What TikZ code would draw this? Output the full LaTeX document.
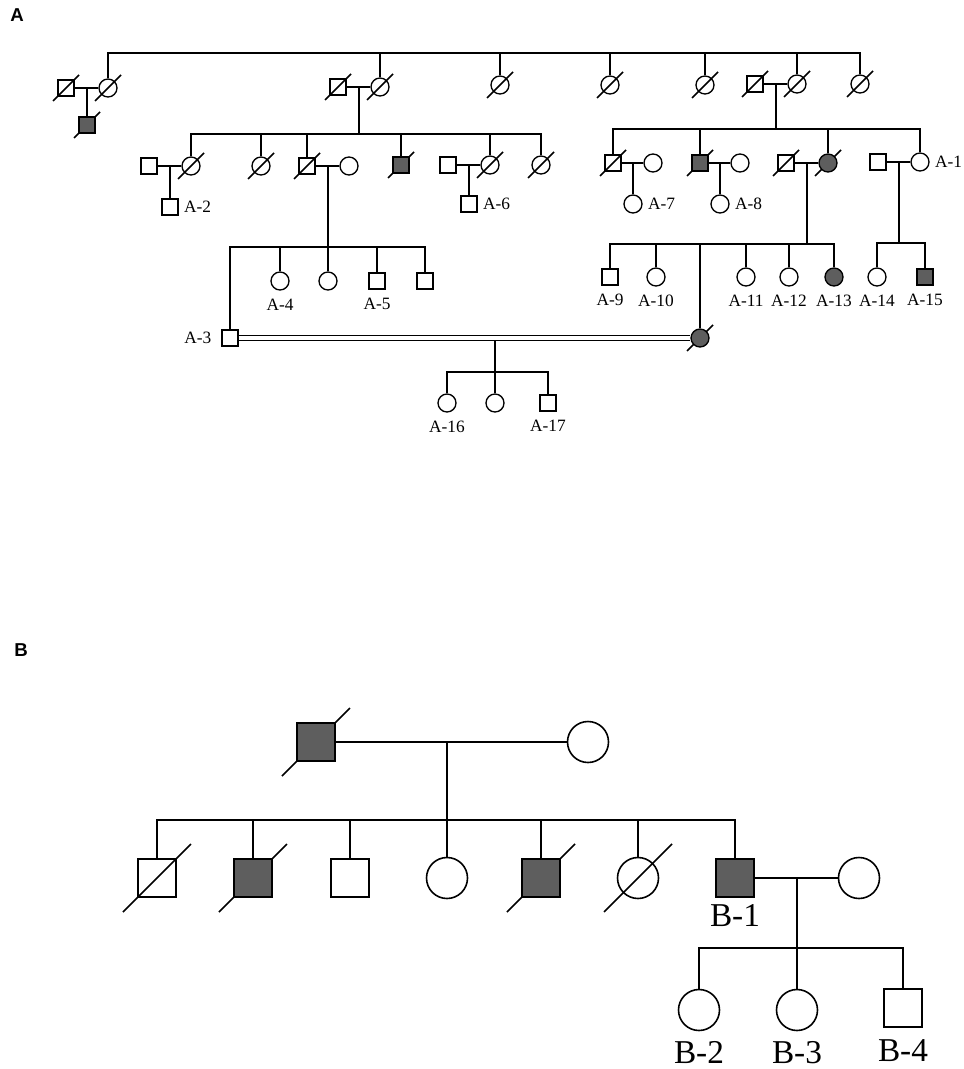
\documentclass[tikz,border=0pt]{standalone}
\usepackage{fontspec}
\setmainfont{Liberation Serif}
\setsansfont{Liberation Sans}
\usetikzlibrary{calc, backgrounds}
\definecolor{AffGray}{HTML}{5E5E5E}

\begin{document}
\begin{tikzpicture}[
        x=0.75pt, y=-0.75pt, line width=1pt,
        sq/.style={draw, rectangle, minimum size=12pt, inner sep=0pt},
        ci/.style={draw, circle, minimum size=13.5pt, inner sep=0pt},
        bsq/.style={sq, minimum size=28.5pt},
        bci/.style={ci, minimum size=30.75pt},
        aff/.style={fill=AffGray},
        lb/.style={font=\fontsize{13}{13}\selectfont, inner sep=1pt, label distance=5pt},
        lr/.style={font=\fontsize{13}{13}\selectfont, inner sep=1pt, label distance=2.5pt},
        bl/.style={font=\fontsize{25}{25}\selectfont, inner sep=1pt},
        panel/.style={font=\sffamily\bfseries\fontsize{14}{14}\selectfont}
      ]
        \useasboundingbox (0,0) rectangle (963,1069);
        \begin{scope}[on background layer]
          \fill[white] (0,0) rectangle (963,1069);
        \end{scope}

        \node[panel] (lblA) at (17,15) {A};
        \node[panel] (lblB) at (21,650) {B};

        % Panel A, generation I
        \node[sq] (a1m) at (66,88) {};
        \node[ci] (a1f) at (108,88) {};
        \node[sq, aff] (a1c) at (87,125) {};
        \node[sq] (a2m) at (338,87) {};
        \node[ci] (a2f) at (380,87) {};
        \node[ci] (a3) at (500,85) {};
        \node[ci] (a4) at (610,85) {};
        \node[ci] (a5) at (705,85) {};
        \node[sq] (a6m) at (755,84) {};
        \node[ci] (a6f) at (797,84) {};
        \node[ci] (a7) at (860,84) {};

        % Panel A, generation II
        \node[sq] (b1m) at (149,166) {};
        \node[ci] (b1f) at (191,166) {};
        \node[sq, label={[lr]right:A-2}] (b1c) at (170,207) {};
        \node[ci] (b2) at (261,166) {};
        \node[sq] (b3m) at (307,166) {};
        \node[ci] (b3f) at (349,166) {};
        \node[sq, aff] (b4) at (401,165) {};
        \node[sq] (b5m) at (448,165) {};
        \node[ci] (b5f) at (490,165) {};
        \node[sq, label={[lr]right:A-6}] (b5c) at (469,204) {};
        \node[ci] (b6) at (541,165) {};

        \node[sq] (c1m) at (613,163) {};
        \node[ci] (c1f) at (653,163) {};
        \node[ci, label={[lr]right:A-7}] (c1c) at (633,204) {};
        \node[sq, aff] (c2m) at (700,163) {};
        \node[ci] (c2f) at (740,163) {};
        \node[ci, label={[lr]right:A-8}] (c2c) at (720,204) {};
        \node[sq] (c3m) at (786,163) {};
        \node[ci, aff] (c3f) at (828,163) {};
        \node[sq] (c4m) at (878,162) {};
        \node[ci, label={[lr]right:A-1}] (c4f) at (920,162) {};

        % Panel A, generation III
        \node[sq, label={[lr, label distance=6pt]left:A-3}] (d1) at (230,338) {};
        \node[ci, label={[lb]below:A-4}] (d2) at (280,281) {};
        \node[ci] (d3) at (328,281) {};
        \node[sq, label={[lb]below:A-5}] (d4) at (377,281) {};
        \node[sq] (d5) at (425,281) {};

        \node[sq, label={[lb]below:A-9}] (e1) at (610,277) {};
        \node[ci, label={[lb]below:A-10}] (e2) at (656,277) {};
        \node[ci, aff] (e3) at (700,338) {};
        \node[ci, label={[lb]below:A-11}] (e4) at (746,277) {};
        \node[ci, label={[lb]below:A-12}] (e5) at (789,277) {};
        \node[ci, aff, label={[lb]below:A-13}] (e6) at (834,277) {};
        \node[ci, label={[lb]below:A-14}] (f1) at (877,277) {};
        \node[sq, aff, label={[lb]below:A-15}] (f2) at (925,277) {};

        \node[ci, label={[lb]below:A-16}] (g1) at (447,403) {};
        \node[ci] (g2) at (495,403) {};
        \node[sq, label={[lb]below:A-17}] (g3) at (548,403) {};

        % Panel A, lines
        \coordinate (topA) at (0,53);
        \draw (a1f.north) -- (a1f.north |- topA) -- (a7.north |- topA) -- (a7.north);
        \foreach \n in {a2f,a3,a4,a5,a6f} \draw (\n.north) -- (\n.north |- topA);

        \foreach \m/\f in {a1m/a1f, a2m/a2f, a6m/a6f, b1m/b1f, b3m/b3f, b5m/b5f, c1m/c1f, c2m/c2f, c3m/c3f, c4m/c4f}
          \draw (\m) -- (\f);
        \draw ($(a1m)!0.5!(a1f)$) -- (a1c);
        \draw ($(b1m)!0.5!(b1f)$) -- (b1c);
        \draw ($(b5m)!0.5!(b5f)$) -- (b5c);
        \draw ($(c1m)!0.5!(c1f)$) -- (c1c);
        \draw ($(c2m)!0.5!(c2f)$) -- (c2c);

        \coordinate (m2) at ($(a2m)!0.5!(a2f)$);
        \coordinate (sibB) at (0,134);
        \draw (m2) -- (m2 |- sibB);
        \draw (b1f.north) -- (b1f.north |- sibB) -- (b6.north |- sibB) -- (b6.north);
        \foreach \n in {b2,b3m,b4,b5f} \draw (\n.north) -- (\n.north |- sibB);

        \coordinate (m6) at ($(a6m)!0.5!(a6f)$);
        \coordinate (sibC) at (0,129);
        \draw (m6) -- (m6 |- sibC);
        \draw (c1m.north) -- (c1m.north |- sibC) -- (c4f.north |- sibC) -- (c4f.north);
        \foreach \n in {c2m,c3f} \draw (\n.north) -- (\n.north |- sibC);

        \coordinate (m3) at ($(b3m)!0.5!(b3f)$);
        \coordinate (sibD) at (0,247);
        \draw (m3) -- (m3 |- sibD);
        \draw (d1.north) -- (d1.north |- sibD) -- (d5.north |- sibD) -- (d5.north);
        \foreach \n in {d2,d3,d4} \draw (\n.north) -- (\n.north |- sibD);

        \coordinate (mc3) at ($(c3m)!0.5!(c3f)$);
        \coordinate (sibE) at (0,244);
        \draw (mc3) -- (mc3 |- sibE);
        \draw (e1.north) -- (e1.north |- sibE) -- (e6.north |- sibE) -- (e6.north);
        \foreach \n in {e2,e3,e4,e5} \draw (\n.north) -- (\n.north |- sibE);

        \coordinate (mc4) at ($(c4m)!0.5!(c4f)$);
        \coordinate (sibF) at (0,243);
        \draw (mc4) -- (mc4 |- sibF);
        \draw (f1.north) -- (f1.north |- sibF) -- (f2.north |- sibF) -- (f2.north);

        \coordinate (mg) at ($(d1)!0.5638!(e3)$);
        \coordinate (sibG) at (0,372);
        \draw (mg) -- (mg |- sibG);
        \draw (g1.north) -- (g1.north |- sibG) -- (g3.north |- sibG) -- (g3.north);
        \draw (g2.north) -- (g2.north |- sibG);
        \draw[double, double distance=2.5pt] (d1) -- (e3);

        % Panel B
        \begin{scope}[line width=1.2pt]
          \node[bsq, aff] (p1) at (316,742) {};
          \node[bci] (p2) at (588,742) {};
          \node[bsq] (q1) at (157,878) {};
          \node[bsq, aff] (q2) at (253,878) {};
          \node[bsq] (q3) at (350,878) {};
          \node[bci] (q4) at (447,878) {};
          \node[bsq, aff] (q5) at (541,878) {};
          \node[bci] (q6) at (638,878) {};
          \node[bsq, aff, label={[bl, label distance=3.5pt]below:B-1}] (q7) at (735,878) {};
          \node[bci] (q8) at (859,878) {};
          \node[bci, label={[bl, label distance=6pt]below:B-2}] (r1) at (699,1010) {};
          \node[bci, label={[bl, label distance=6pt]below:B-3}] (r2) at (797,1010) {};
          \node[bsq, label={[bl, label distance=7pt]below:B-4}] (r3) at (903,1008) {};

          \draw (p1) -- (p2);
          \coordinate (mp) at ($(p1)!0.4816!(p2)$);
          \coordinate (sibQ) at (0,820);
          \draw (mp) -- (mp |- sibQ);
          \draw (q1.north) -- (q1.north |- sibQ) -- (q7.north |- sibQ) -- (q7.north);
          \foreach \n in {q2,q3,q4,q5,q6} \draw (\n.north) -- (\n.north |- sibQ);

          \draw (q7) -- (q8);
          \coordinate (mq) at ($(q7)!0.5!(q8)$);
          \coordinate (sibR) at (0,948);
          \draw (mq) -- (mq |- sibR);
          \draw (r1.north) -- (r1.north |- sibR) -- (r3.north |- sibR) -- (r3.north);
          \draw (r2.north) -- (r2.north |- sibR);
        \end{scope}

        % deceased marks
        \begin{scope}[on background layer]
          \foreach \n in {a1m,a1f,a1c,a2m,a2f,a3,a4,a5,a6m,a6f,a7,b1f,b2,b3m,b4,b5f,b6,c1m,c2m,c3m,c3f,e3}
            \draw[line width=1.1pt] (\n.center) +(-13,13) -- +(13,-13);
          \foreach \n in {p1,q1,q2,q5,q6}
            \draw[line width=1.2pt] (\n.center) +(-34,34) -- +(34,-34);
        \end{scope}
      \end{tikzpicture}
\end{document}
